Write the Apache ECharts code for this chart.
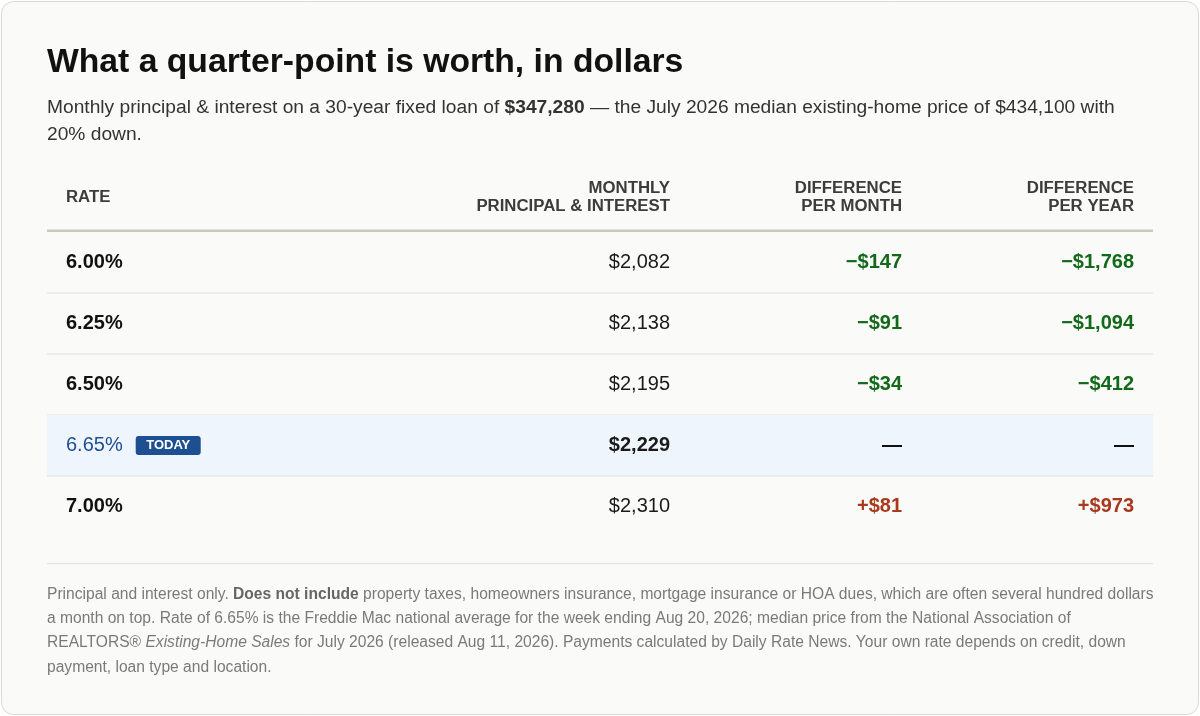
<!DOCTYPE html>
<html>
<head>
    <meta charset="utf-8">
    <title>What a quarter-point is worth</title>
    <script src="https://cdn.jsdelivr.net/npm/echarts@6/dist/echarts.min.js"></script>
    <style>
        html, body { margin: 0; padding: 0; background: #ffffff; }
        #main { width: 1200px; height: 716px; }
    </style>
</head>
<body>
    <div id="main"></div>
    <script>
        // table data
        var rates = ['6.00%', '6.25%', '6.50%', '6.65%', '7.00%'];
        var payments = [2082, 2138, 2195, 2229, 2310];
        var diffMonth = [-147, -91, -34, null, 81];
        var diffYear = [-1768, -1094, -412, null, 973];
        var todayIndex = 3;
        var headers = [['RATE'], ['MONTHLY', 'PRINCIPAL & INTEREST'], ['DIFFERENCE', 'PER MONTH'], ['DIFFERENCE', 'PER YEAR']];

        var FONT = '"Liberation Sans", Arial, sans-serif';
        var GRID_LEFT = 47, GRID_RIGHT = 47, GRID_TOP = 232, GRID_BOTTOM = 179;
        // column anchors measured from grid left (col 0 left aligned, others right aligned)
        var COL_X = [19, 623, 855, 1087];
        var GREEN = '#12691a', RED = '#a8391c', BLUE = '#1d4f91';

        function money(v, signed) {
            if (v === null) return '\u2014';
            var s = '$' + Math.abs(v).toLocaleString('en-US');
            if (v < 0) return '\u2212' + s;
            if (v > 0 && signed) return '+' + s;
            return s;
        }

        var ctx = document.createElement('canvas').getContext('2d');
        function textWidth(str, font) {
            ctx.font = font;
            return ctx.measureText(str).width;
        }

        function renderRow(params, api) {
            var row = api.value(1);
            var pt = api.coord([0, row]);
            var h = api.size([0, 1])[1];
            var cs = params.coordSys;
            var yc = pt[1];
            var top = yc - h / 2;
            var children = [];
            var isToday = row === todayIndex;

            if (isToday) {
                children.push({
                    type: 'rect',
                    shape: { x: cs.x, y: top, width: cs.width, height: h },
                    style: { fill: '#eff5fd' }
                });
            }
            if (row < rates.length - 1) {
                children.push({
                    type: 'rect',
                    shape: { x: cs.x, y: top + h - 0.5, width: cs.width, height: 1 },
                    style: { fill: '#e0e0dc' }
                });
            }

            // rate
            children.push({
                type: 'text',
                style: {
                    text: rates[row], x: cs.x + COL_X[0], y: yc,
                    fill: isToday ? BLUE : '#111',
                    fontFamily: FONT, fontSize: 20, fontWeight: isToday ? 'normal' : 'bold',
                    align: 'left', verticalAlign: 'middle'
                }
            });
            if (isToday) {
                var w = textWidth(rates[row], '20px ' + FONT);
                var bx = cs.x + COL_X[0] + w + 13;
                children.push({
                    type: 'rect',
                    shape: { x: bx, y: yc - 9.5, width: 65, height: 19, r: 3 },
                    style: { fill: BLUE }
                });
                children.push({
                    type: 'text',
                    style: {
                        text: 'TODAY', x: bx + 32.5, y: yc,
                        fill: '#ffffff', fontFamily: FONT, fontSize: 13, fontWeight: 'bold',
                        align: 'center', verticalAlign: 'middle'
                    }
                });
            }
            // payment
            children.push({
                type: 'text',
                style: {
                    text: money(payments[row]), x: cs.x + COL_X[1], y: yc,
                    fill: '#1a1a1a', fontFamily: FONT, fontSize: 20,
                    fontWeight: isToday ? 'bold' : 'normal',
                    align: 'right', verticalAlign: 'middle'
                }
            });
            // differences
            [diffMonth, diffYear].forEach(function (arr, k) {
                var v = arr[row];
                children.push({
                    type: 'text',
                    style: {
                        text: money(v, true), x: cs.x + COL_X[2 + k], y: yc,
                        fill: v === null ? '#111' : (v < 0 ? GREEN : RED),
                        fontFamily: FONT, fontSize: 20, fontWeight: 'bold',
                        align: 'right', verticalAlign: 'middle'
                    }
                });
            });
            return { type: 'group', children: children };
        }

        var graphics = [
            {
                type: 'rect', z: -10,
                shape: { x: 1.5, y: 1.5, width: 1197, height: 713, r: 12 },
                style: { fill: '#fafaf8', stroke: '#d9d9d6', lineWidth: 1 }
            },
            {
                type: 'text', x: 47, y: 63,
                style: {
                    text: 'What a quarter-point is worth, in dollars',
                    fill: '#111', fontFamily: FONT, fontSize: 33.7, fontWeight: 'bold',
                    verticalAlign: 'middle'
                }
            },
            {
                type: 'text', x: 47, y: 94,
                style: {
                    text: '{n|Monthly principal & interest on a 30-year fixed loan of }{b|$347,280}{n| \u2014 the July 2026 median existing-home price of $434,100 with}\n{n|20% down.}',
                    fill: '#333', fontFamily: FONT, fontSize: 19.2, lineHeight: 27,
                    rich: {
                        n: { fontFamily: FONT, fontSize: 19.2, lineHeight: 27, fill: '#333' },
                        b: { fontFamily: FONT, fontSize: 19.2, lineHeight: 27, fill: '#333', fontWeight: 'bold' }
                    }
                }
            },
            {
                type: 'rect',
                shape: { x: GRID_LEFT, y: 229.5, width: 1106, height: 2.5 },
                style: { fill: '#c9c9c0' }
            },
            {
                type: 'rect',
                shape: { x: GRID_LEFT, y: 563, width: 1106, height: 1 },
                style: { fill: '#e0e0dc' }
            },
            {
                type: 'text', x: 47, y: 582,
                style: {
                    text: '{n|Principal and interest only. }{b|Does not include}{n| property taxes, homeowners insurance, mortgage insurance or HOA dues, which are often several hundred dollars}\n' +
                        '{n|a month on top. Rate of 6.65% is the Freddie Mac national average for the week ending Aug 20, 2026; median price from the National Association of}\n' +
                        '{n|REALTORS\u00ae }{i|Existing-Home Sales}{n| for July 2026 (released Aug 11, 2026). Payments calculated by Daily Rate News. Your own rate depends on credit, down}\n' +
                        '{n|payment, loan type and location.}',
                    fill: '#777', fontFamily: FONT, fontSize: 15.6, lineHeight: 24.4,
                    rich: {
                        n: { fontFamily: FONT, fontSize: 15.6, lineHeight: 24.4, fill: '#7a7a7a' },
                        b: { fontFamily: FONT, fontSize: 15.6, lineHeight: 24.4, fill: '#666', fontWeight: 'bold' },
                        i: { fontFamily: FONT, fontSize: 15.6, lineHeight: 24.4, fill: '#7a7a7a', fontStyle: 'italic' }
                    }
                }
            }
        ];

        // header labels
        headers.forEach(function (lines, c) {
            graphics.push({
                type: 'text',
                x: GRID_LEFT + COL_X[c], y: 197,
                style: {
                    text: lines.join('\n'),
                    fill: '#3c3c3c', fontFamily: FONT, fontSize: 16.8, fontWeight: 'bold', lineHeight: 18,
                    align: c === 0 ? 'left' : 'right', verticalAlign: 'middle'
                }
            });
        });

        var myChart = echarts.init(document.getElementById('main'), null, { renderer: 'canvas' });
        var option = {
            animation: false,
            backgroundColor: '#ffffff',
            grid: { left: GRID_LEFT, right: GRID_RIGHT, top: GRID_TOP, bottom: GRID_BOTTOM },
            xAxis: { type: 'category', data: ['row'], show: false },
            yAxis: { type: 'category', data: rates, inverse: true, show: false },
            graphic: graphics,
            series: [{
                type: 'custom',
                renderItem: renderRow,
                data: rates.map(function (r, i) { return [0, i]; }),
                silent: true
            }]
        };
        myChart.setOption(option);
    </script>
</body>
</html>
